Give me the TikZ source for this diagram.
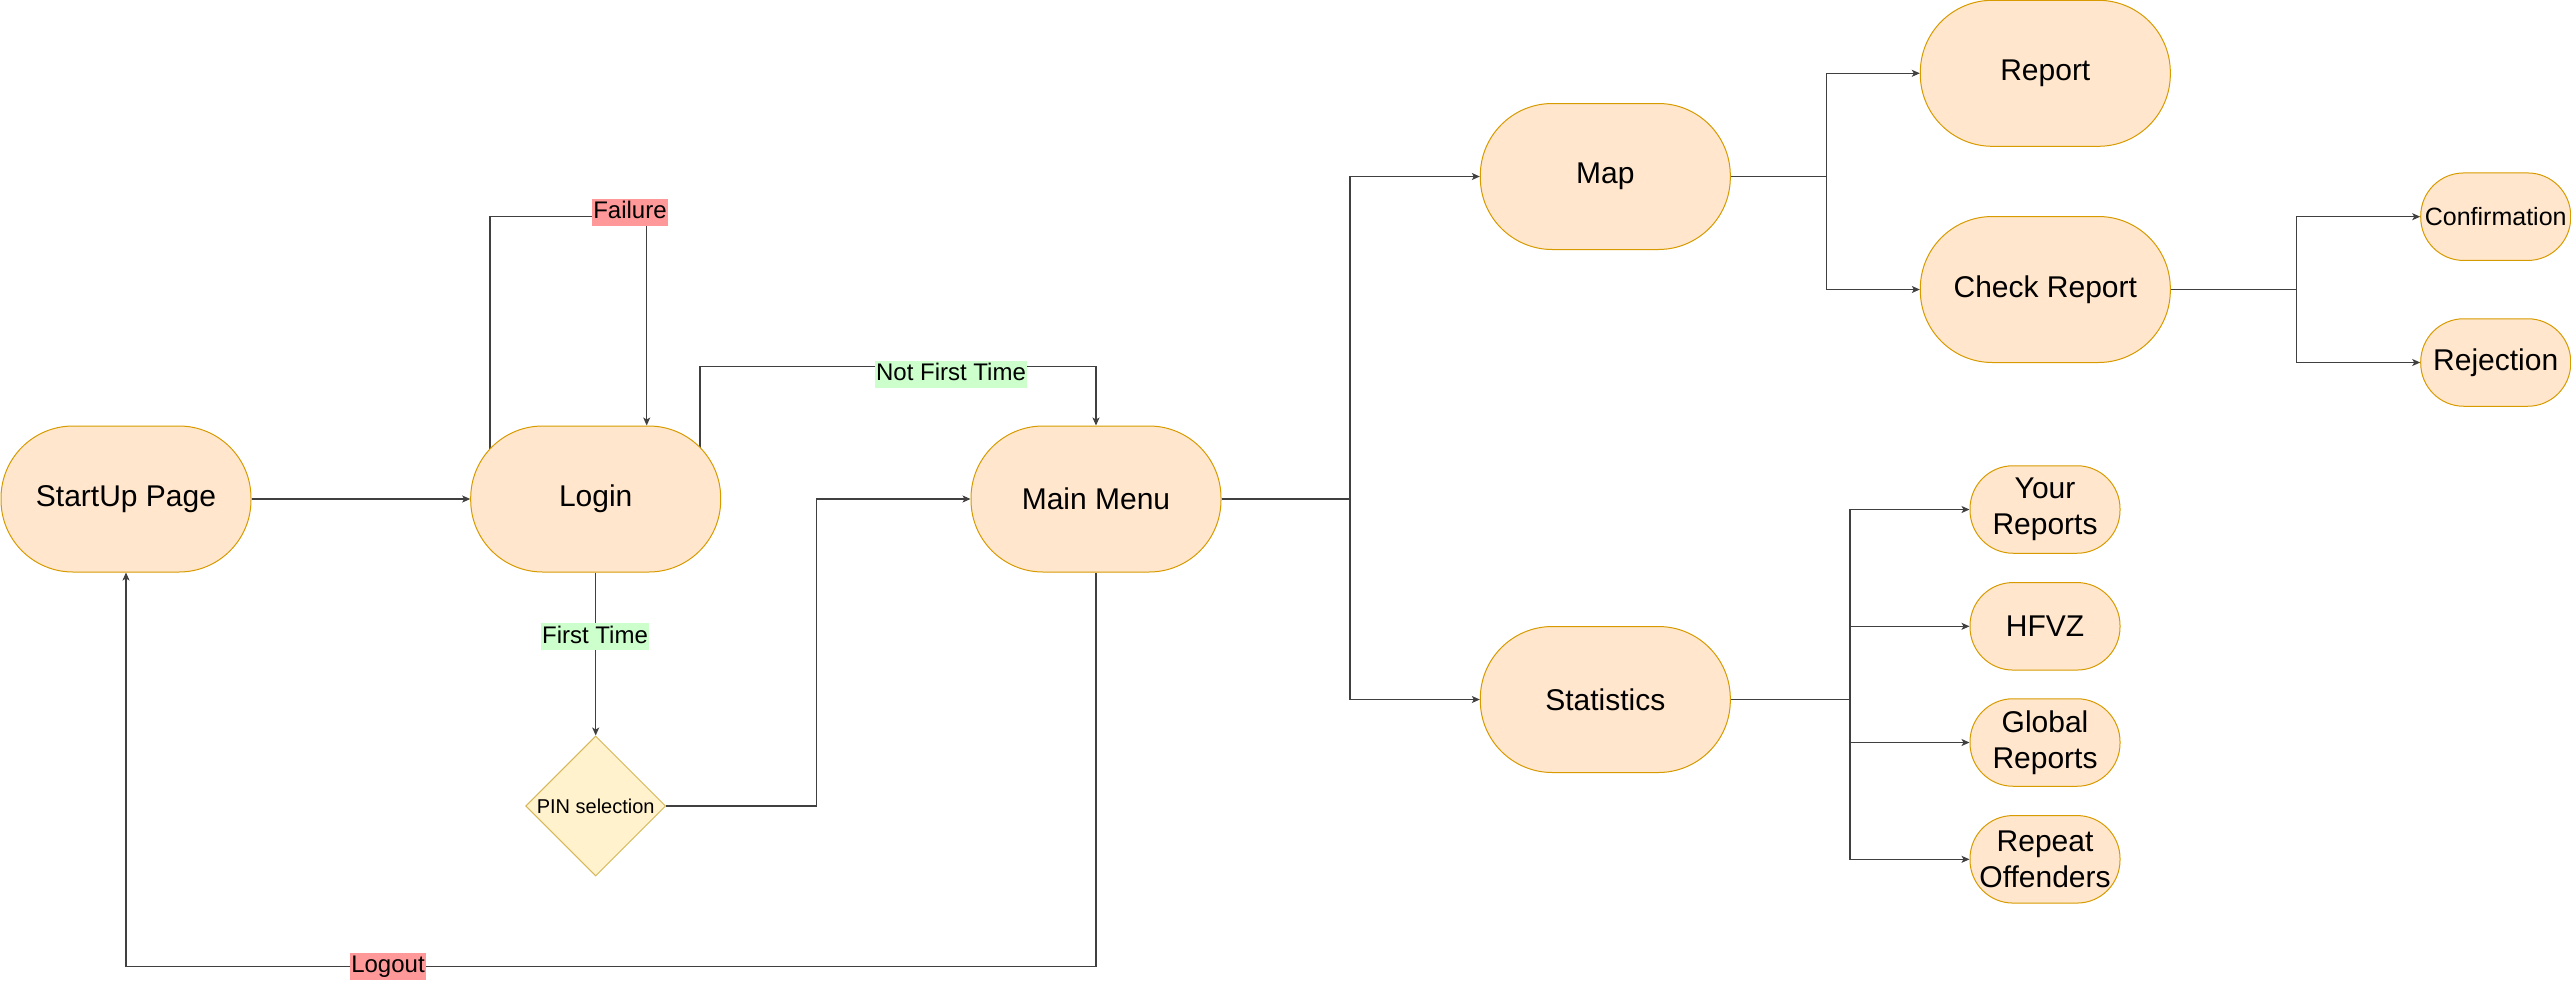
\documentclass[tikz,border=0pt]{standalone}
\usepackage{fontspec}
\setmainfont{Liberation Sans}
\usetikzlibrary{arrows.meta,shapes.geometric,backgrounds}
\definecolor{nodefill}{HTML}{FFE6CC}
\definecolor{nodeline}{HTML}{D79B00}
\definecolor{diafill}{HTML}{FFF2CC}
\definecolor{dialine}{HTML}{D6B656}
\definecolor{redlab}{HTML}{FF9999}
\definecolor{greenlab}{HTML}{CCFFCC}
\begin{document}
\begin{tikzpicture}[x=1pt,y=-1pt,
  big/.style={draw=nodeline, fill=nodefill, line width=1pt, rectangle,
    rounded corners=72pt, minimum width=250pt, minimum height=146pt,
    inner sep=0pt, align=center, font=\fontsize{30}{36}\selectfont},
  small/.style={big, rounded corners=43pt, minimum width=150pt, minimum height=87.5pt},
  pindia/.style={draw=dialine, fill=diafill, line width=1pt, diamond, aspect=1,
    minimum width=140pt, minimum height=140pt, inner sep=0pt,
    font=\fontsize{20}{24}\selectfont},
  elab/.style={inner xsep=1.5pt, inner ysep=0pt, text height=20pt, text depth=7pt,
    font=\fontsize{24}{28}\selectfont},
  wire/.style={draw=black!75, line width=1.1pt},
  arr/.style={wire, -{Stealth[length=8pt,width=7pt,inset=2pt]}}
]
\useasboundingbox (0,0) rectangle (2571,980);

% nodes
\node[big] (startup) at (126,499) {StartUp Page};
\node[big] (login) at (595.7,499) {Login};
\node[big] (main) at (1096,499) {Main Menu};
\node[pindia] (pin) at (595.7,806) {\makebox[0pt]{PIN selection}};
\node[big] (map) at (1605.3,176.5) {Map};
\node[big] (stats) at (1605.3,699.5) {Statistics};
\node[big] (report) at (2045.3,73.3) {Report};
\node[big] (check) at (2045.3,289.5) {Check Report};
\node[small, font=\fontsize{25}{30}\selectfont] (confirm) at (2495.7,216.7) {Confirmation};
\node[small] (reject) at (2495.7,362.5) {Rejection};
\node[small] (your) at (2045,509.5) {Your\\Reports};
\node[small] (hfvz) at (2045,626.3) {HFVZ};
\node[small] (global) at (2045,742.5) {Global\\Reports};
\node[small] (repeat) at (2045,859.3) {Repeat\\Offenders};

% connectors
\begin{scope}[on background layer]
  \draw[arr] (startup.east) -- (login.west);
  \draw[arr] (490,499) -- (490,216.7) -| (login.north -| 646.7,0);
  \draw[arr] (700,499) -- (700,366.7) -| (main.north);
  \draw[arr] (login.south) -- (pin.north);
  \draw[arr] (pin.east) -| (816.7,650) |- (main.west);
  \draw[arr] (main.south) -- (1096,966.7) -| (startup.south);
  \draw[arr] (main.east) -| (1350,300) |- (map.west);
  \draw[arr] (main.east) -| (1350,600) |- (stats.west);
  \draw[arr] (map.east) -| (1826.7,120) |- (report.west);
  \draw[arr] (map.east) -| (1826.7,240) |- (check.west);
  \draw[arr] (check.east) -| (2296.7,250) |- (confirm.west);
  \draw[arr] (check.east) -| (2296.7,330) |- (reject.west);
  \draw[arr] (stats.east) -| (1850,600) |- (your.west);
  \draw[arr] (stats.east) -| (1850,660) |- (hfvz.west);
  \draw[arr] (stats.east) -| (1850,720) |- (global.west);
  \draw[arr] (stats.east) -| (1850,800) |- (repeat.west);
\end{scope}

% edge labels
\node[elab, fill=redlab] (lfail) at (630,212) {Failure};
\node[elab, fill=greenlab] (lnft) at (951,374) {Not First Time};
\node[elab, fill=greenlab] (lft) at (595,636.5) {First Time};
\node[elab, fill=redlab] (llog) at (388,966) {Logout};
\end{tikzpicture}
\end{document}
